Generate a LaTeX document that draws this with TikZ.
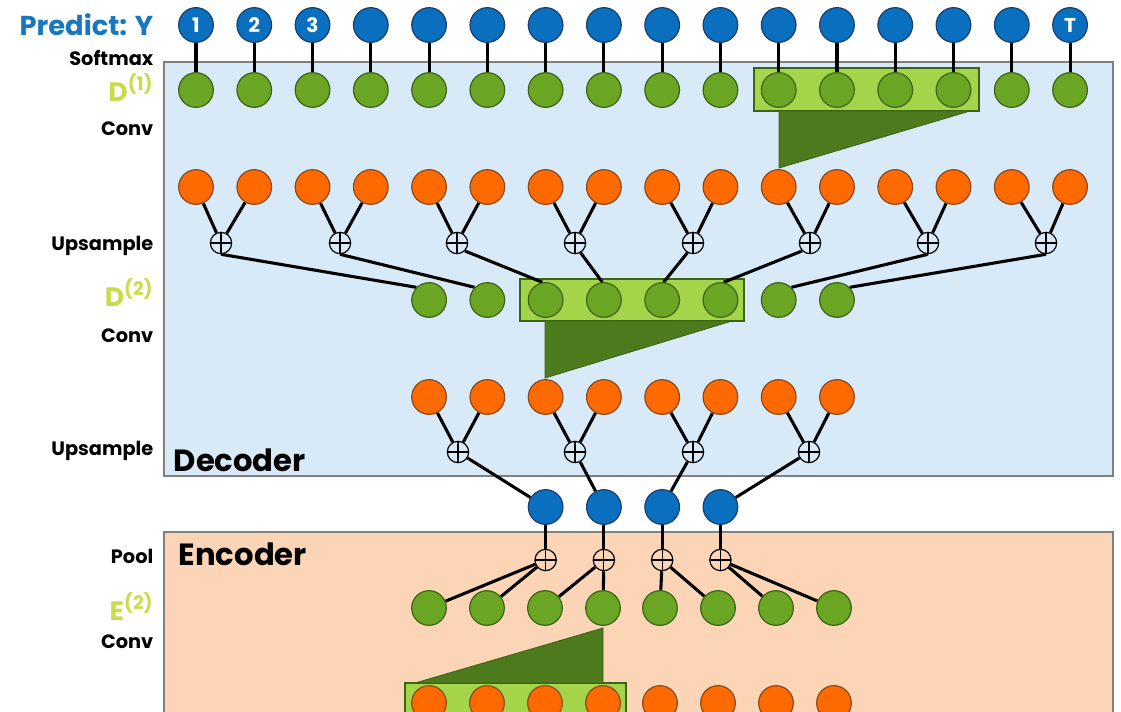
\documentclass[tikz,border=0pt]{standalone}
\usepackage{fontspec}
\setmainfont{Poppins}
\definecolor{cblue}{HTML}{0B6FBF}
\definecolor{cbluedk}{HTML}{1A3F6B}
\definecolor{cgreen}{HTML}{6BA524}
\definecolor{cgreendk}{HTML}{3B6416}
\definecolor{corange}{HTML}{FF6A00}
\definecolor{corangedk}{HTML}{8A4A1E}
\definecolor{chl}{HTML}{A3D44A}
\definecolor{ctri}{HTML}{4E7A1E}
\definecolor{cdec}{HTML}{D8EAF7}
\definecolor{cenc}{HTML}{FCD5B6}
\definecolor{clabel}{HTML}{C9DC4C}
\definecolor{cpred}{HTML}{1878BE}
\definecolor{cbox}{HTML}{808080}
\pgfdeclarelayer{back}
\pgfdeclarelayer{lines}
\pgfsetlayers{back,lines,main}
\begin{document}
\begin{tikzpicture}[x=0.75pt,y=-0.75pt,
  nd/.style={circle,inner sep=0pt,minimum size=26pt,line width=0.9pt},
  bnode/.style={nd,fill=cblue,draw=cbluedk},
  gnode/.style={nd,fill=cgreen,draw=cgreendk},
  onode/.style={nd,fill=corange,draw=corangedk},
  oplus/.style={circle,inner sep=0pt,minimum size=16pt,draw=black,line width=0.9pt,
    path picture={\draw[line width=0.9pt] (path picture bounding box.north) -- (path picture bounding box.south)
      (path picture bounding box.west) -- (path picture bounding box.east);}},
  conn/.style={line width=2.3pt,black},
  panel/.style={draw=cbox,line width=0.8pt},
  hl/.style={fill=chl,draw=cgreendk,line width=0.8pt},
  tri/.style={fill=ctri,draw=cgreendk,line width=0.6pt},
  lbl/.style={anchor=base east,font=\bfseries\fontsize{14.5}{16}\selectfont},
  dlbl/.style={anchor=base east,text=clabel,font=\bfseries\fontsize{20}{22}\selectfont},
  title/.style={anchor=base west,font=\bfseries\fontsize{23}{25}\selectfont},
  num/.style={text=white,font=\bfseries\fontsize{15}{16}\selectfont}
]
\clip (0,0) rectangle (1121,711);
\begin{pgfonlayer}{back}
  \fill[white] (0,0) rectangle (1121,711);
  \draw[panel,fill=cdec] (164,62) rectangle (1113,476);
  \draw[panel,fill=cenc] (164,532) rectangle (1113,730);
  % conv highlights and kernels
  \draw[hl] (754,68) rectangle (979,111);
  \draw[tri] (779,111) -- (970,111) -- (779,168) -- cycle;
  \draw[hl] (520,279) rectangle (744,321);
  \draw[tri] (545,321) -- (732,321) -- (545,378) -- cycle;
  \draw[hl] (405,683) rectangle (626,730);
  \draw[tri] (415,683) -- (603,683) -- (603,628) -- cycle;
\end{pgfonlayer}

% top prediction row and D1
\foreach \i/\t in {0/1,1/2,2/3,3/,4/,5/,6/,7/,8/,9/,10/,11/,12/,13/,14/,15/T}{
  \pgfmathsetmacro\cx{196+58.27*\i}
  \node[bnode,num] (y-\i) at (\cx,25) {\t};
  \node[gnode] (d1-\i) at (\cx,90) {};
  \node[onode] (o1-\i) at (\cx,187) {};
}
% upsample 1
\foreach \k/\x in {0/221,1/340,2/457,3/575,4/693,5/810,6/928,7/1046}{
  \node[oplus,fill=cdec] (u1-\k) at (\x,243) {};
}
% D2 and orange row 2
\foreach \j in {0,...,7}{
  \pgfmathsetmacro\cx{196+58.27*(\j+4)}
  \node[gnode] (d2-\j) at (\cx,300) {};
  \node[onode] (o2-\j) at (\cx,397) {};
}
% upsample 2
\foreach \k/\x in {0/458,1/575,2/693,3/809}{
  \node[oplus,fill=cdec] (u2-\k) at (\x,452) {};
}
% bottleneck
\foreach \k in {0,...,3}{
  \pgfmathsetmacro\cx{196+58.27*(\k+6)}
  \node[bnode] (mb-\k) at (\cx,507) {};
  \node[oplus,fill=cenc] (p-\k) at (\cx,560) {};
}
% encoder E2 and bottom row
\foreach \j/\x in {0/429,1/487,2/545,3/603,4/660,5/718,6/776,7/834}{
  \node[gnode] (e-\j) at (\x,608) {};
  \node[onode] (ob-\j) at (\x,703) {};
}

\begin{pgfonlayer}{lines}
  \foreach \i in {0,...,15}{ \draw[conn] (y-\i) -- (d1-\i); }
  \foreach \k [evaluate=\k as \a using int(2*\k), evaluate=\k as \b using int(2*\k+1)] in {0,...,7}{
    \draw[conn] (o1-\a) -- (u1-\k);
    \draw[conn] (o1-\b) -- (u1-\k);
  }
  \draw[conn] (u1-0.south) -- (d2-0.135);
  \draw[conn] (u1-1.south) -- (d2-1.135);
  \draw[conn] (u1-2.-45) -- (d2-2.100);
  \draw[conn] (u1-3.-60) -- (d2-3.95);
  \draw[conn] (u1-4.-120) -- (d2-4.85);
  \draw[conn] (u1-5.-135) -- (d2-5.80);
  \draw[conn] (u1-6.south) -- (d2-6.45);
  \draw[conn] (u1-7.south) -- (d2-7.45);
  \foreach \k [evaluate=\k as \a using int(2*\k), evaluate=\k as \b using int(2*\k+1)] in {0,...,3}{
    \draw[conn] (o2-\a) -- (u2-\k);
    \draw[conn] (o2-\b) -- (u2-\k);
    \draw[conn] (u2-\k) -- (mb-\k);
    \draw[conn] (mb-\k) -- (p-\k);
    \draw[conn] (p-\k) -- (e-\a);
    \draw[conn] (p-\k) -- (e-\b);
  }
\end{pgfonlayer}

% labels
\node[lbl,text=cpred,font=\bfseries\fontsize{20.5}{22}\selectfont] (lpred) at (158,35) {Predict: Y};
\node[lbl] (lsoft) at (158,65) {Softmax};
\node[dlbl] (ld1) at (158,101) {D\textsuperscript{(1)}};
\node[lbl] (lconv1) at (158,135) {Conv};
\node[lbl] (lup1) at (158,250) {Upsample};
\node[dlbl] (ld2) at (158,306) {D\textsuperscript{(2)}};
\node[lbl] (lconv2) at (158,342) {Conv};
\node[lbl] (lup2) at (158,455) {Upsample};
\node[lbl] (lpool) at (158,563) {Pool};
\node[dlbl] (le2) at (158,620) {E\textsuperscript{(2)}};
\node[lbl] (lconv3) at (158,648) {Conv};
\node[title] (ldec) at (169,471) {Decoder};
\node[title] (lenc) at (174,565) {Encoder};
\end{tikzpicture}
\end{document}
